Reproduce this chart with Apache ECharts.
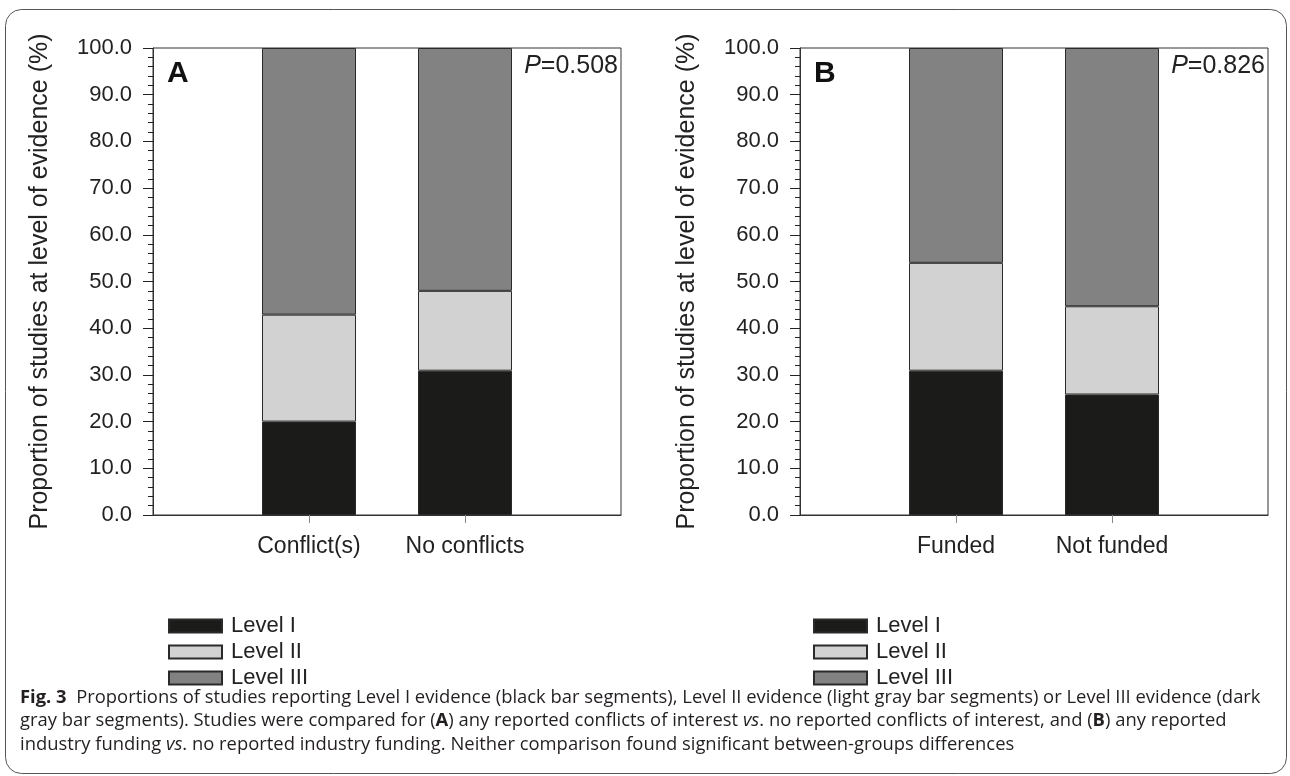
<!DOCTYPE html>
<html><head><meta charset="utf-8">
<script src="https://cdn.jsdelivr.net/npm/echarts@6/dist/echarts.min.js"></script>
<style>html,body{margin:0;padding:0;background:#fff}#c{width:1290px;height:776px}</style>
</head><body><div id="c"></div>
<script>
// ---- data ----
const levels = ['Level I', 'Level II', 'Level III'];
const categoriesA = ['Conflict(s)', 'No conflicts'];
const categoriesB = ['Funded', 'Not funded'];
const levelI_A = [20.0, 30.9];
const levelII_A = [22.9, 17.1];
const levelIII_A = [57.1, 52.0];
const levelI_B = [30.9, 25.8];
const levelII_B = [23.1, 18.9];
const levelIII_B = [46.0, 55.3];
const yMin = 0, yMax = 100, yStep = 10;
const panelLetters = ['A', 'B'];
const pValues = ['0.508', '0.826'];
const yTitle = 'Proportion of studies at level of evidence (%)';
const captionLines = [
  [{t:'Fig. 3', s:'b'}, {t:'  Proportions of studies reporting Level I evidence (black bar segments), Level II evidence (light gray bar segments) or Level III evidence (dark', s:'n'}],
  [{t:'gray bar segments). Studies were compared for (', s:'n'}, {t:'A', s:'b'}, {t:') any reported conflicts of interest ', s:'n'}, {t:'vs', s:'i'}, {t:'. no reported conflicts of interest, and (', s:'n'}, {t:'B', s:'b'}, {t:') any reported', s:'n'}],
  [{t:'industry funding ', s:'n'}, {t:'vs', s:'i'}, {t:'. no reported industry funding. Neither comparison found significant between-groups differences', s:'n'}]
];

// ---- style ----
const colors = ['#1b1b19', '#d2d2d2', '#828282'];
const FONT = '"Liberation Sans", Arial, sans-serif';
const CAPFONT = '"Open Sans", "Noto Sans", sans-serif';
const TXT = '#222';

const panels = [
  {cats: categoriesA, vals: [levelI_A, levelII_A, levelIII_A], left: 153},
  {cats: categoriesB, vals: [levelI_B, levelII_B, levelIII_B], left: 800}
];
const gridTop = 48, gridH = 467, gridW = 468;

const chart = echarts.init(document.getElementById('c'), null, {renderer: 'canvas'});

const grids = [], xAxes = [], yAxes = [], series = [], legends = [], graphics = [];
panels.forEach((p, gi) => {
  grids.push({left: p.left, top: gridTop, width: gridW, height: gridH, show: true,
    borderColor: '#333', borderWidth: 1, backgroundColor: 'transparent'});
  xAxes.push({
    type: 'category', gridIndex: gi, boundaryGap: false,
    data: [''].concat(p.cats).concat(['']),
    axisLine: {lineStyle: {color: '#333', width: 1}},
    axisTick: {show: true, length: 8, interval: (i, v) => v !== '', lineStyle: {color: '#888'}},
    axisLabel: {interval: 0, margin: 20, fontFamily: FONT, fontSize: 23, color: TXT},
    splitLine: {show: false}
  });
  yAxes.push({
    type: 'value', gridIndex: gi, min: yMin, max: yMax, interval: yStep,
    name: yTitle, nameLocation: 'middle', nameRotate: 90, nameGap: 100,
    nameTextStyle: {fontFamily: FONT, fontSize: 25, color: TXT},
    axisLine: {show: true, lineStyle: {color: '#333', width: 1}},
    axisTick: {show: true, inside: false, length: 10, lineStyle: {color: '#222'}},
    minorTick: {show: true, splitNumber: 5, length: 5, lineStyle: {color: '#222'}},
    axisLabel: {margin: 21, fontFamily: FONT, fontSize: 22, color: TXT, formatter: v => v.toFixed(1)},
    splitLine: {show: false}
  });
  p.vals.forEach((arr, li) => {
    series.push({
      type: 'bar', name: levels[li], xAxisIndex: gi, yAxisIndex: gi, stack: 'S' + gi,
      barWidth: 94,
      itemStyle: {color: colors[li], borderColor: '#2a2a2a', borderWidth: 1},
      emphasis: {disabled: true},
      data: ['-'].concat(arr).concat(['-'])
    });
  });
  legends.push({
    data: levels, orient: 'vertical', left: gi === 0 ? 163 : 808, top: 610,
    itemWidth: 53, itemHeight: 13, itemGap: 4, icon: 'rect', selectedMode: false,
    textStyle: {fontFamily: FONT, fontSize: 22, color: TXT, padding: [0, 0, 0, 4]}
  });
  graphics.push({type: 'text', left: p.left + 14, top: 59,
    style: {text: panelLetters[gi], font: 'bold 30px ' + FONT, fill: '#111'}});
  graphics.push({type: 'text', right: 1290 - (p.left + gridW) + 3, top: 54,
    style: {text: '{i|P}=' + pValues[gi], rich: {i: {fontStyle: 'italic', fontFamily: FONT, fontSize: 25, fill: TXT}},
      fontFamily: FONT, fontSize: 25, fill: TXT}});
});

// frame
graphics.push({type: 'rect', shape: {x: 5.5, y: 9.5, width: 1281, height: 764, r: 16},
  style: {fill: 'none', stroke: '#555', lineWidth: 1}, z: -1});
// caption
const capY = [701, 724, 748];
captionLines.forEach((parts, i) => {
  const txt = parts.map(pt => '{' + pt.s + '|' + pt.t.replace(/[{}|]/g, '') + '}').join('');
  graphics.push({type: 'text', left: 20, top: capY[i] - 12,
    style: {text: txt, rich: {
      n: {fontFamily: CAPFONT, fontSize: 18.4, fill: '#231f20'},
      b: {fontFamily: CAPFONT, fontSize: 18.4, fontWeight: 'bold', fill: '#231f20'},
      i: {fontFamily: CAPFONT, fontSize: 18.4, fontStyle: 'italic', fill: '#231f20'}
    }}});
});

chart.setOption({
  animation: false,
  backgroundColor: '#fff',
  grid: grids, xAxis: xAxes, yAxis: yAxes, series: series, legend: legends,
  graphic: graphics
});
</script></body></html>
